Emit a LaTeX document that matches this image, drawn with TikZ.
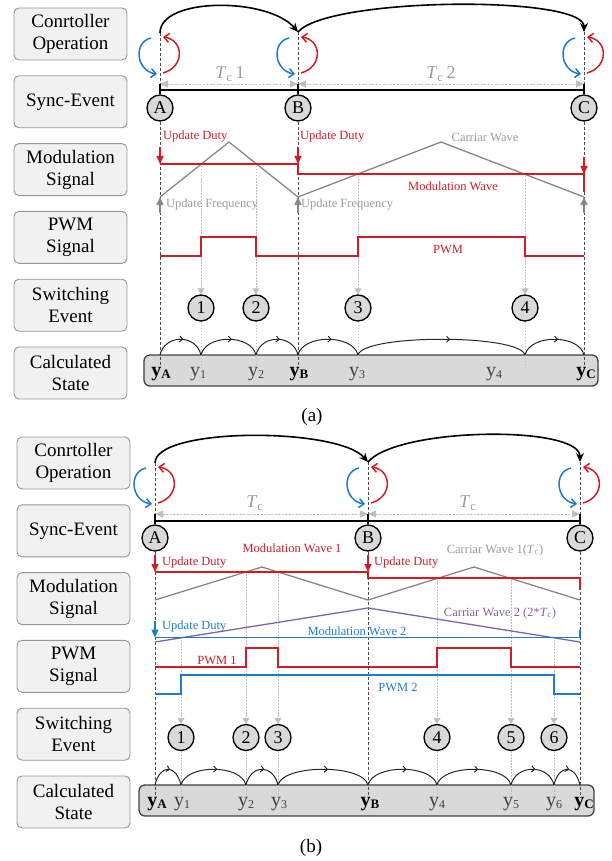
\documentclass[tikz,border=0pt]{standalone}
\usepackage{fontspec}
\setmainfont{Liberation Serif}
\usetikzlibrary{arrows.meta,decorations.markings}
\definecolor{myred}{RGB}{208,28,36}
\definecolor{myblue}{RGB}{32,122,204}
\definecolor{mypurple}{RGB}{130,98,170}
\definecolor{cargray}{RGB}{135,135,135}
\definecolor{lightg}{RGB}{190,190,190}
\definecolor{tcgray}{RGB}{155,155,155}
\definecolor{boxfill}{RGB}{241,241,241}
\definecolor{boxdraw}{RGB}{150,150,150}
\definecolor{barfill}{RGB}{217,217,217}
\newcommand{\ylab}[1]{{\fontsize{20}{20}\selectfont y\raisebox{-2.5pt}{\fontsize{12}{12}\selectfont #1}}}
\newcommand{\ybold}[1]{{\fontsize{20}{20}\selectfont\bfseries y\raisebox{-2.5pt}{\fontsize{13}{13}\selectfont #1}}}
\newcommand{\Tcc}{\textit{T}\textsubscript{c}}
\newcommand{\cycarrows}[2]{%
  \draw[cycb] (#1-9,#2) .. controls (#1-27,#2+4) and (#1-24,#2+33) .. (#1-3,#2+36);
  \draw[cycr] (#1+3,#2+35) .. controls (#1+25,#2+29) and (#1+24,#2+2) .. (#1+3,#2-1);}
\newcommand{\sarc}[3]{\draw[statearc] (#1,#3) .. controls (#1+5,#3-21) and (#2-5,#3-21) .. (#2,#3);}
\tikzset{
  lbl/.style={draw=boxdraw, fill=boxfill, rounded corners=5pt, line width=0.9pt, minimum width=113pt, minimum height=52pt, align=center, inner sep=0pt, font=\fontsize{19}{22}\selectfont},
  evt/.style={circle, draw=black, fill=barfill, line width=1.3pt, minimum size=26pt, inner sep=0pt, font=\fontsize{18}{18}\selectfont},
  statebar/.style={draw=black!75, fill=barfill, rounded corners=6pt, line width=1.3pt, minimum height=31pt, inner sep=0pt},
  vdash/.style={draw=black!70, line width=1pt, dash pattern=on 3pt off 2pt},
  swline/.style={draw=lightg, line width=0.9pt, dash pattern=on 1.5pt off 1.5pt},
  swarr/.style={swline, -{Triangle[length=6pt,width=7pt]}},
  dim/.style={draw=lightg, line width=0.9pt, dash pattern=on 2pt off 1.5pt, {Triangle[length=8pt,width=7pt]}-{Triangle[length=8pt,width=7pt]}},
  ctrl/.style={draw=black, line width=1.6pt, -{Stealth[length=9pt,width=8pt]}},
  cycb/.style={draw=myblue, line width=1.5pt, -{Straight Barb[length=5pt,width=9pt]}},
  cycr/.style={draw=myred, line width=1.5pt, -{Straight Barb[length=5pt,width=9pt]}},
  sig/.style={line width=1.5pt},
  syncl/.style={draw=black, line width=1.5pt},
  redarr/.style={draw=myred, line width=1.5pt, -{Triangle[length=8pt,width=7pt]}},
  bluearr/.style={draw=myblue, line width=1.5pt, -{Triangle[length=8pt,width=7pt]}},
  grayarr/.style={draw=cargray, line width=1.3pt, -{Triangle[length=8pt,width=7pt]}},
  txt/.style={inner sep=0pt, font=\fontsize{12.5}{13}\selectfont},
  tclab/.style={inner sep=0pt, text=tcgray, font=\fontsize{18}{18}\selectfont},
  ytxt/.style={inner sep=0pt, text=black!75},
  captxt/.style={inner sep=0pt, font=\fontsize{19}{19}\selectfont},
  statearc/.style={draw=black!85, line width=1pt, postaction={decorate}, decoration={markings, mark=at position 0.55 with {\arrow{Straight Barb[length=3pt,width=6pt]}}}}
}
\begin{document}
\begin{tikzpicture}[x=1pt,y=-1pt]
\useasboundingbox (0,0) rectangle (611,861);

%================ PANEL (a) ================
\node[lbl] (la1) at (70.5,34) {Conrtoller\\Operation};
\node[lbl] (la2) at (70.5,101.8) {Sync-Event};
\node[lbl] (la3) at (70.5,169.6) {Modulation\\Signal};
\node[lbl] (la4) at (70.5,237.4) {PWM\\Signal};
\node[lbl] (la5) at (70.5,305.2) {Switching\\Event};
\node[lbl] (la6) at (70.5,373) {Calculated\\State};

\node[statebar, minimum width=454pt] (abar) at (371,370.5) {};

\node[evt] (aA) at (160,108) {A};
\node[evt] (aB) at (298,108) {B};
\node[evt] (aC) at (584,108) {C};
\coordinate (aAt) at (160,33);
\coordinate (aBt) at (298,32);
\coordinate (aCt) at (584,32);
\coordinate (aAd) at (160,84);
\coordinate (aBd) at (298,84);
\coordinate (aCd) at (584,84);

\draw[vdash] (aAt) -- (aAd);
\draw[vdash] (aBt) -- (aBd);
\draw[vdash] (aCt) -- (aCd);
\draw[vdash] (aA.south) -- (160,367);
\draw[vdash] (aB.south) -- (298,367);
\draw[vdash] (aC.south) -- (584,367);

\node[evt] (as1) at (201,308) {1};
\node[evt] (as2) at (256,308) {2};
\node[evt] (as3) at (358,308) {3};
\node[evt] (as4) at (525,308) {4};
\draw[swarr] (201,166) -- (as1.north);
\draw[swarr] (256,166) -- (as2.north);
\draw[swarr] (358,176) -- (as3.north);
\draw[swarr] (525,176) -- (as4.north);
\draw[swline] (as1.south) -- (201,368);
\draw[swline] (as2.south) -- (256,368);
\draw[swline] (as3.south) -- (358,368);
\draw[swline] (as4.south) -- (525,368);

\draw[ctrl] (aAt) .. controls (160,-3) and (268,-3) .. (aBt);
\draw[ctrl] (aBt) .. controls (328,-3) and (584,-5) .. (aCt);
\cycarrows{160}{38}
\cycarrows{298}{38}
\cycarrows{584}{38}

\draw[dim] (aAd) -- (aBd);
\draw[dim] (aBd) -- (aCd);
\node[tclab] (tca1) at (230,74) {\Tcc\,1};
\node[tclab] (tca2) at (441,74) {\Tcc\,2};
\draw[syncl] (160,90) -- (584,90);
\draw[syncl] (aAd) -- (aA.north);
\draw[syncl] (aBd) -- (aB.north);
\draw[syncl] (aCd) -- (aC.north);

\draw[sig, draw=cargray, line width=1.3pt] (160,197) -- (229,142) -- (298,197) -- (441,142) -- (584,197);
\draw[sig, draw=myred] (160,164) -- (298,164) -- (298,174) -- (584,174) -- (584,192);
\draw[redarr] (160,147) -- (160,164);
\draw[redarr] (298,147) -- (298,164);
\draw[redarr] (584,157) -- (584,174);
\draw[grayarr] (160,213) -- (160,197);
\draw[grayarr] (298,213) -- (298,197);
\draw[grayarr] (584,213) -- (584,197);

\node[txt, text=myred, anchor=west] (ua1) at (163,137) {Update Duty};
\node[txt, text=myred, anchor=west] (ua2) at (300,137) {Update Duty};
\node[txt, text=tcgray] (cwa) at (485,137) {Carriar Wave};
\node[txt, text=myred] (mwa) at (453,186) {Modulation Wave};
\node[txt, text=tcgray, anchor=west] (ufa1) at (166,205) {Update Frequency};
\node[txt, text=tcgray, anchor=west] (ufa2) at (301,205) {Update Frequency};

\draw[sig, draw=myred] (160,256) -- (201,256) -- (201,237) -- (256,237) -- (256,256) -- (358,256) -- (358,237) -- (525,237) -- (525,256) -- (584,256);
\node[txt, text=myred] (pwma) at (448,250) {PWM};

\sarc{160}{201}{355}
\sarc{201}{256}{355}
\sarc{256}{298}{355}
\sarc{298}{358}{355}
\sarc{358}{525}{355}
\sarc{525}{584}{355}

\node[ytxt, text=black] (yaA) at (161,374) {\ybold{A}};
\node[ytxt] (ya1) at (198,374) {\ylab{1}};
\node[ytxt] (ya2) at (256,374) {\ylab{2}};
\node[ytxt, text=black] (yaB) at (299,374) {\ybold{B}};
\node[ytxt] (ya3) at (357,374) {\ylab{3}};
\node[ytxt] (ya4) at (494,374) {\ylab{4}};
\node[ytxt, text=black] (yaC) at (586,374) {\ybold{C}};

\node[captxt] (capa) at (312,417) {(a)};

%================ PANEL (b) ================
\node[lbl] (lb1) at (73.5,463) {Conrtoller\\Operation};
\node[lbl] (lb2) at (73.5,530.8) {Sync-Event};
\node[lbl] (lb3) at (73.5,598.6) {Modulation\\Signal};
\node[lbl] (lb4) at (73.5,666.4) {PWM\\Signal};
\node[lbl] (lb5) at (73.5,734.2) {Switching\\Event};
\node[lbl] (lb6) at (73.5,802) {Calculated\\State};

\node[statebar, minimum width=455pt] (bbar) at (366.5,800.5) {};

\node[evt] (bA) at (155,538) {A};
\node[evt] (bB) at (368,538) {B};
\node[evt] (bC) at (580,538) {C};
\coordinate (bAt) at (155,463);
\coordinate (bBt) at (368,462);
\coordinate (bCt) at (580,462);
\coordinate (bAd) at (155,514);
\coordinate (bBd) at (368,514);
\coordinate (bCd) at (580,514);

\draw[vdash] (bAt) -- (bAd);
\draw[vdash] (bBt) -- (bBd);
\draw[vdash] (bCt) -- (bCd);
\draw[vdash] (bA.south) -- (155,797);
\draw[vdash] (bB.south) -- (368,797);
\draw[vdash] (bC.south) -- (580,797);

\node[evt] (bs1) at (181,737.5) {1};
\node[evt] (bs2) at (246,737.5) {2};
\node[evt] (bs3) at (278,737.5) {3};
\node[evt] (bs4) at (437,737.5) {4};
\node[evt] (bs5) at (511,737.5) {5};
\node[evt] (bs6) at (554,737.5) {6};
\draw[swarr] (181,640) -- (bs1.north);
\draw[swarr] (246,574) -- (bs2.north);
\draw[swarr] (278,574) -- (bs3.north);
\draw[swarr] (437,580) -- (bs4.north);
\draw[swarr] (511,580) -- (bs5.north);
\draw[swarr] (554,640) -- (bs6.north);
\draw[swline] (bs1.south) -- (181,798);
\draw[swline] (bs2.south) -- (246,798);
\draw[swline] (bs3.south) -- (278,798);
\draw[swline] (bs4.south) -- (437,798);
\draw[swline] (bs5.south) -- (511,798);
\draw[swline] (bs6.south) -- (554,798);

\draw[ctrl] (bAt) .. controls (155,427) and (338,427) .. (bBt);
\draw[ctrl] (bBt) .. controls (398,427) and (580,425) .. (bCt);
\cycarrows{155}{468}
\cycarrows{368}{468}
\cycarrows{580}{468}

\draw[dim] (bAd) -- (bBd);
\draw[dim] (bBd) -- (bCd);
\node[tclab] (tcb1) at (255,503) {\Tcc};
\node[tclab] (tcb2) at (468,503) {\Tcc};
\draw[syncl] (155,521) -- (580,521);
\draw[syncl] (bAd) -- (bA.north);
\draw[syncl] (bBd) -- (bB.north);
\draw[syncl] (bCd) -- (bC.north);

\draw[sig, draw=cargray, line width=1.3pt] (155,600) -- (262,567) -- (368,600) -- (474,567) -- (580,600);
\draw[sig, draw=mypurple, line width=1.3pt] (155,642) -- (368,608) -- (580,642);
\draw[sig, draw=myred] (155,572) -- (368,572) -- (368,578) -- (580,578) -- (580,590);
\draw[sig, draw=myblue] (155,637.5) -- (580,637.5) -- (580,630);
\draw[redarr] (155,555) -- (155,572);
\draw[redarr] (368,555) -- (368,572);
\draw[bluearr] (155,621) -- (155,637.5);

\node[txt, text=myred] (mwb1) at (292,548) {Modulation Wave 1};
\node[txt, text=myred, anchor=west] (ub1) at (162,563) {Update Duty};
\node[txt, text=myred, anchor=west] (ub2) at (374,563) {Update Duty};
\node[txt, text=tcgray] (cwb1) at (495,550) {Carriar Wave 1(\Tcc)};
\node[txt, text=mypurple] (cwb2) at (500,613) {Carriar Wave 2 (2*\Tcc)};
\node[txt, text=myblue, anchor=west] (ub3) at (162,627) {Update Duty};
\node[txt, text=myblue] (mwb2) at (357,631) {Modulation Wave 2};

\draw[sig, draw=myred] (155,667) -- (246,667) -- (246,648) -- (278,648) -- (278,667) -- (437,667) -- (437,648) -- (511,648) -- (511,667) -- (580,667);
\draw[sig, draw=myblue] (155,694) -- (181,694) -- (181,675) -- (554,675) -- (554,694) -- (580,694);
\node[txt, text=myred] (pwmb1) at (217,660) {PWM 1};
\node[txt, text=myblue] (pwmb2) at (398,687) {PWM 2};

\sarc{155}{181}{785}
\sarc{181}{246}{785}
\sarc{246}{278}{785}
\sarc{278}{368}{785}
\sarc{368}{437}{785}
\sarc{437}{511}{785}
\sarc{511}{554}{785}
\sarc{554}{580}{785}

\node[ytxt, text=black] (ybA) at (157,804) {\ybold{A}};
\node[ytxt] (yb1) at (182,804) {\ylab{1}};
\node[ytxt] (yb2) at (246,804) {\ylab{2}};
\node[ytxt] (yb3) at (279,804) {\ylab{3}};
\node[ytxt, text=black] (ybB) at (370,804) {\ybold{B}};
\node[ytxt] (yb4) at (437,804) {\ylab{4}};
\node[ytxt] (yb5) at (511,804) {\ylab{5}};
\node[ytxt] (yb6) at (554,804) {\ylab{6}};
\node[ytxt, text=black] (ybC) at (584,804) {\ybold{C}};

\node[captxt] (capb) at (311,848) {(b)};
\end{tikzpicture}
\end{document}
